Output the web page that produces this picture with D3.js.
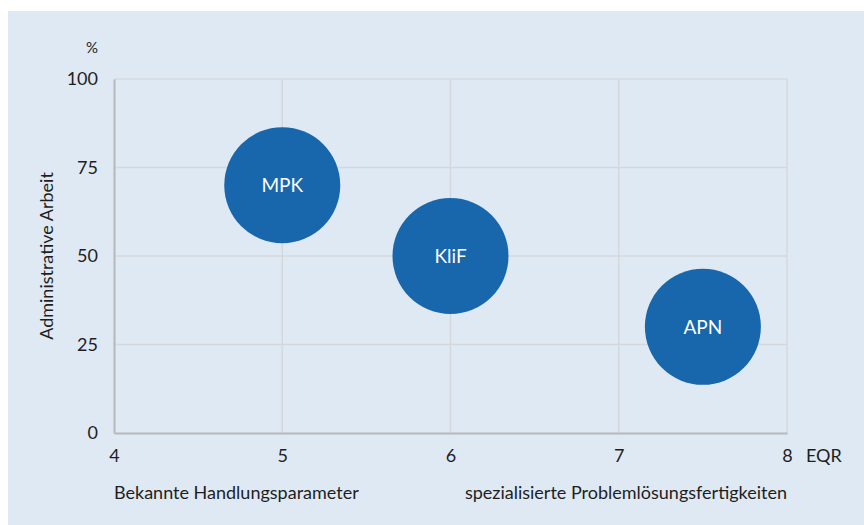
<!DOCTYPE html>
<html>
<head>
<meta charset="utf-8">
<script src="https://cdn.jsdelivr.net/npm/d3@7"></script>
<style>
  body { margin: 0; background: #fff; }
  svg { display: block; }
  text { font-family: Lato, "Open Sans", sans-serif; fill: #1e1e1e; }
</style>
</head>
<body>
<div class="bubble-chart"></div>
<script>
const labels = ['MPK', 'KliF', 'APN'];
const eqrValues = [5, 6, 7.5];
const adminValues = [70, 50, 30];
const bubbleSizes = [1, 1, 1];

const xTicks = [4, 5, 6, 7, 8];
const yTicks = [0, 25, 50, 75, 100];

const width = 864;
const height = 525;
const margin = { top: 79, right: 77, bottom: 92, left: 114 };
const fontSize = 18;

const svg = d3.select('.bubble-chart')
  .append('svg')
  .attr('width', width)
  .attr('height', height);

// panel background
svg.append('rect')
  .attr('x', 8)
  .attr('y', 11)
  .attr('width', width - 8)
  .attr('height', height - 11)
  .attr('fill', '#dfe9f4');

const x = d3.scaleLinear()
  .domain([4, 8])
  .range([margin.left, width - margin.right]);

const y = d3.scaleLinear()
  .domain([0, 100])
  .range([height - margin.bottom, margin.top]);

const r = d3.scaleSqrt()
  .domain([0, 1])
  .range([0, 58]);

// grid
svg.append('g')
  .selectAll('line')
  .data(yTicks.filter(d => d > 0))
  .enter()
  .append('line')
  .attr('x1', x(4))
  .attr('x2', x(8))
  .attr('y1', d => y(d))
  .attr('y2', d => y(d))
  .attr('stroke', '#d4d8dd')
  .attr('stroke-width', 1.5);

svg.append('g')
  .selectAll('line')
  .data(xTicks.filter(d => d > 4))
  .enter()
  .append('line')
  .attr('x1', d => x(d))
  .attr('x2', d => x(d))
  .attr('y1', y(0))
  .attr('y2', y(100))
  .attr('stroke', '#d4d8dd')
  .attr('stroke-width', 1.5);

// axes
const xAxis = svg.append('g')
  .attr('transform', 'translate(0,' + y(0) + ')')
  .call(d3.axisBottom(x).tickValues(xTicks).tickFormat(d3.format('d')).tickSize(0).tickPadding(16));

const yAxis = svg.append('g')
  .attr('transform', 'translate(' + x(4) + ',0)')
  .call(d3.axisLeft(y).tickValues(yTicks).tickFormat(d3.format('d')).tickSize(0).tickPadding(16));

[xAxis, yAxis].forEach(a => {
  a.attr('font-size', null).attr('font-family', null);
  a.select('.domain').attr('stroke', '#b8b8b8').attr('stroke-width', 2);
  a.selectAll('text').style('font-size', fontSize + 'px').style('fill', '#1e1e1e');
});

// bubbles
const bubbles = svg.append('g')
  .selectAll('g')
  .data(labels.map((name, i) => ({ name, eqr: eqrValues[i], admin: adminValues[i], size: bubbleSizes[i] })))
  .enter()
  .append('g')
  .attr('transform', d => 'translate(' + x(d.eqr) + ',' + y(d.admin) + ')');

bubbles.append('circle')
  .attr('r', d => r(d.size))
  .attr('fill', '#1866ab');

bubbles.append('text')
  .attr('text-anchor', 'middle')
  .attr('dy', '.36em')
  .style('font-size', '19px')
  .style('fill', '#fff')
  .text(d => d.name);

// labels
svg.append('text')
  .attr('x', 98)
  .attr('y', 53)
  .attr('text-anchor', 'end')
  .style('font-size', '15px')
  .text('%');

svg.append('text')
  .attr('x', 806)
  .attr('y', 462)
  .style('font-size', fontSize + 'px')
  .text('EQR');

svg.append('text')
  .attr('transform', 'translate(53,' + y(50) + ') rotate(-90)')
  .attr('text-anchor', 'middle')
  .style('font-size', fontSize + 'px')
  .text('Administrative Arbeit');

svg.append('text')
  .attr('x', x(4))
  .attr('y', 499)
  .style('font-size', fontSize + 'px')
  .text('Bekannte Handlungsparameter');

svg.append('text')
  .attr('x', x(8))
  .attr('y', 499)
  .attr('text-anchor', 'end')
  .style('font-size', fontSize + 'px')
  .text('spezialisierte Problemlösungsfertigkeiten');
</script>
</body>
</html>
